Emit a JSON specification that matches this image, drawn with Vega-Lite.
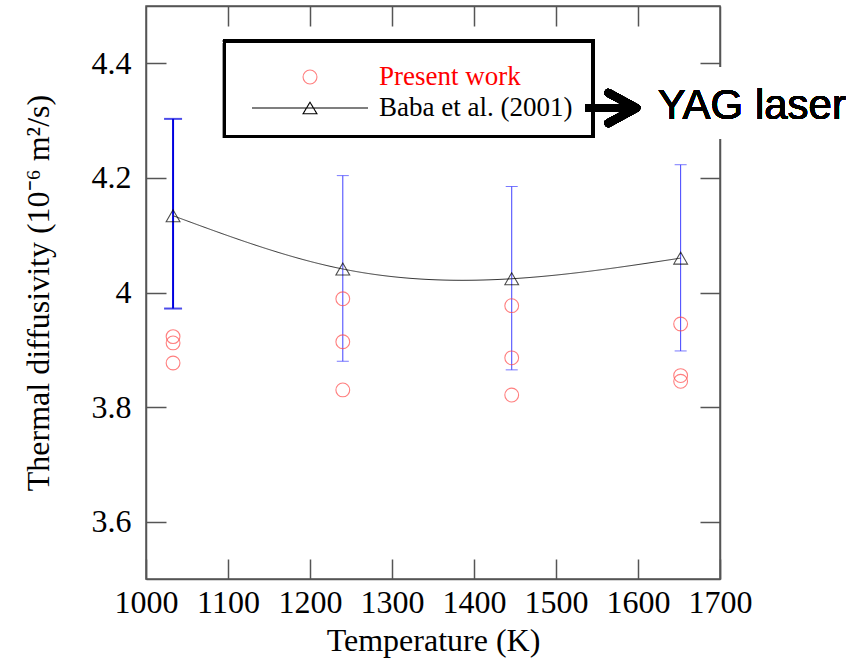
{
  "$schema": "https://vega.github.io/schema/vega-lite/v6.json",
  "width": 574,
  "height": 573,
  "autosize": "none",
  "padding": {"left": 146, "top": 6, "right": 136, "bottom": 80},
  "background": "white",
  "config": {
    "view": {"stroke": "#555555", "strokeWidth": 1.5},
    "font": "Liberation Serif",
    "axis": {
      "grid": false,
      "domainColor": "#555555",
      "domainWidth": 1.5,
      "tickColor": "#555555",
      "tickWidth": 1.5,
      "tickSize": -20,
      "labelFont": "Liberation Serif",
      "labelFontSize": 32,
      "labelColor": "#000000",
      "titleFont": "Liberation Serif",
      "titleFontSize": 32,
      "titleFontWeight": "normal",
      "titleColor": "#000000"
    }
  },
  "data": {
    "values": [
      {"series": "Present work", "T": 1033, "alpha": 3.923},
      {"series": "Present work", "T": 1033, "alpha": 3.912},
      {"series": "Present work", "T": 1033, "alpha": 3.877},
      {"series": "Present work", "T": 1240, "alpha": 3.989},
      {"series": "Present work", "T": 1240, "alpha": 3.914},
      {"series": "Present work", "T": 1240, "alpha": 3.830},
      {"series": "Present work", "T": 1446, "alpha": 3.977},
      {"series": "Present work", "T": 1446, "alpha": 3.886},
      {"series": "Present work", "T": 1446, "alpha": 3.821},
      {"series": "Present work", "T": 1652, "alpha": 3.945},
      {"series": "Present work", "T": 1652, "alpha": 3.855},
      {"series": "Present work", "T": 1652, "alpha": 3.845},
      {"series": "Baba et al. (2001)", "T": 1033, "alpha": 4.134, "lo": 3.972, "hi": 4.303},
      {"series": "Baba et al. (2001)", "T": 1240, "alpha": 4.041, "lo": 3.880, "hi": 4.204},
      {"series": "Baba et al. (2001)", "T": 1446, "alpha": 4.024, "lo": 3.865, "hi": 4.185},
      {"series": "Baba et al. (2001)", "T": 1652, "alpha": 4.060, "lo": 3.898, "hi": 4.223}
    ]
  },
  "layer": [
    {
      "mark": {"type": "rect", "fill": "white", "stroke": null},
      "encoding": {
        "x": {"datum": 1690, "type": "quantitative", "scale": {"domain": [1000, 1700], "nice": false, "zero": false}, "axis": null},
        "x2": {"datum": 1760},
        "y": {"datum": 4.393, "type": "quantitative", "scale": {"domain": [3.5, 4.5], "nice": false, "zero": false}, "axis": null},
        "y2": {"datum": 4.268}
      }
    },
    {
      "transform": [{"filter": "datum.series === 'Baba et al. (2001)' && datum.T < 1100"}],
      "mark": {"type": "rule", "color": "#0000e0", "strokeWidth": 2},
      "encoding": {
        "x": {
          "field": "T", "type": "quantitative",
          "scale": {"domain": [1000, 1700], "nice": false, "zero": false},
          "axis": {
            "orient": "bottom",
            "values": [1000, 1100, 1200, 1300, 1400, 1500, 1600, 1700],
            "format": "d",
            "labelOverlap": false,
            "labelFlush": false,
            "labelPadding": 28,
            "title": "Temperature (K)",
            "titleY": 71,
            "titleBaseline": "alphabetic"
          }
        },
        "y": {
          "field": "lo", "type": "quantitative",
          "scale": {"domain": [3.5, 4.5], "nice": false, "zero": false},
          "axis": {
            "orient": "left",
            "values": [3.6, 3.8, 4.0, 4.2, 4.4],
            "format": "~g",
            "labelOverlap": false,
            "labelFlush": false,
            "labelPadding": 35,
            "title": "Thermal diffusivity (10⁻⁶ m²/s)",
            "titleX": -98,
            "titleBaseline": "alphabetic"
          }
        },
        "y2": {"field": "hi"}
      }
    },
    {
      "transform": [{"filter": "datum.series === 'Baba et al. (2001)' && datum.T > 1100"}],
      "mark": {"type": "rule", "color": "#4040ff", "strokeWidth": 1},
      "encoding": {
        "x": {"field": "T", "type": "quantitative", "scale": {"domain": [1000, 1700], "nice": false, "zero": false}, "axis": null},
        "y": {"field": "lo", "type": "quantitative", "scale": {"domain": [3.5, 4.5], "nice": false, "zero": false}, "axis": null},
        "y2": {"field": "hi"}
      }
    },
    {
      "transform": [
        {"filter": "datum.series === 'Baba et al. (2001)' && datum.T < 1100"},
        {"fold": ["lo", "hi"], "as": ["end", "v"]}
      ],
      "mark": {"type": "tick", "orient": "horizontal", "color": "#0000e0", "size": 18, "thickness": 2},
      "encoding": {
        "x": {"field": "T", "type": "quantitative", "scale": {"domain": [1000, 1700], "nice": false, "zero": false}, "axis": null},
        "y": {"field": "v", "type": "quantitative", "scale": {"domain": [3.5, 4.5], "nice": false, "zero": false}, "axis": null}
      }
    },
    {
      "transform": [
        {"filter": "datum.series === 'Baba et al. (2001)' && datum.T > 1100"},
        {"fold": ["lo", "hi"], "as": ["end", "v"]}
      ],
      "mark": {"type": "tick", "orient": "horizontal", "color": "#4040ff", "size": 12, "thickness": 1},
      "encoding": {
        "x": {"field": "T", "type": "quantitative", "scale": {"domain": [1000, 1700], "nice": false, "zero": false}, "axis": null},
        "y": {"field": "v", "type": "quantitative", "scale": {"domain": [3.5, 4.5], "nice": false, "zero": false}, "axis": null}
      }
    },
    {
      "transform": [{"filter": "datum.series === 'Baba et al. (2001)'"}],
      "mark": {"type": "line", "interpolate": "natural", "color": "#333333", "strokeWidth": 1},
      "encoding": {
        "x": {
          "field": "T", "type": "quantitative",
          "scale": {"domain": [1000, 1700], "nice": false, "zero": false},
          "axis": {"orient": "top", "values": [1100, 1200, 1300, 1400, 1500, 1600], "labels": false, "title": null}
        },
        "y": {
          "field": "alpha", "type": "quantitative",
          "scale": {"domain": [3.5, 4.5], "nice": false, "zero": false},
          "axis": {"orient": "right", "values": [3.6, 3.8, 4.0, 4.2, 4.4], "labels": false, "title": null}
        },
        "strokeDash": {
          "field": "series", "type": "nominal",
          "scale": {"domain": ["Baba et al. (2001)"], "range": [[1, 0]]},
          "legend": {
            "title": null,
            "orient": "none",
            "legendX": 105,
            "legendY": 43,
            "padding": 0,
            "symbolType": "M-1,0L1,0M0,-0.1L0.12,0.1L-0.12,0.1Z",
            "symbolSize": 13456,
            "symbolStrokeWidth": 1.1,
            "symbolStrokeColor": "#000000",
            "symbolFillColor": "transparent",
            "labelFont": "Liberation Serif",
            "labelFontSize": 27,
            "labelColor": "#000000",
            "labelOffset": 10,
            "labelLimit": 400
          }
        }
      }
    },
    {
      "transform": [{"filter": "datum.series === 'Baba et al. (2001)'"}],
      "mark": {"type": "point", "shape": "triangle-up", "filled": false, "size": 190, "strokeWidth": 1.1, "color": "#000000"},
      "encoding": {
        "x": {"field": "T", "type": "quantitative", "scale": {"domain": [1000, 1700], "nice": false, "zero": false}, "axis": null},
        "y": {"field": "alpha", "type": "quantitative", "scale": {"domain": [3.5, 4.5], "nice": false, "zero": false}, "axis": null}
      }
    },
    {
      "transform": [{"filter": "datum.series === 'Present work'"}],
      "mark": {"type": "point", "shape": "circle", "filled": false, "size": 190, "strokeWidth": 1.1},
      "encoding": {
        "x": {"field": "T", "type": "quantitative", "scale": {"domain": [1000, 1700], "nice": false, "zero": false}, "axis": null},
        "y": {"field": "alpha", "type": "quantitative", "scale": {"domain": [3.5, 4.5], "nice": false, "zero": false}, "axis": null},
        "color": {
          "field": "series", "type": "nominal",
          "scale": {"domain": ["Present work"], "range": ["#ff4a4a"]},
          "legend": {
            "title": null,
            "orient": "none",
            "legendX": 105,
            "legendY": 12,
            "padding": 0,
            "symbolType": "M-1,0L-1,0M1,0L1,0M0.12,0A0.12,0.12,0,1,1,-0.12,0A0.12,0.12,0,1,1,0.12,0Z",
            "symbolSize": 13456,
            "symbolStrokeWidth": 1.1,
            "symbolFillColor": "transparent",
            "labelFont": "Liberation Serif",
            "labelFontSize": 27,
            "labelColor": "#ff0000",
            "labelOffset": 10,
            "labelLimit": 400
          }
        }
      }
    },
    {
      "mark": {"type": "rect", "filled": false, "color": "#000000", "strokeWidth": 3},
      "encoding": {
        "x": {"datum": 1095.7, "type": "quantitative", "scale": {"domain": [1000, 1700], "nice": false, "zero": false}, "axis": null},
        "x2": {"datum": 1545.1},
        "y": {"datum": 4.439, "type": "quantitative", "scale": {"domain": [3.5, 4.5], "nice": false, "zero": false}, "axis": null},
        "y2": {"datum": 4.2723}
      }
    },
    {
      "mark": {"type": "rule", "color": "#000000", "strokeWidth": 8},
      "encoding": {
        "x": {"datum": 1535.4, "type": "quantitative", "scale": {"domain": [1000, 1700], "nice": false, "zero": false}, "axis": null},
        "x2": {"datum": 1594},
        "y": {"datum": 4.322, "type": "quantitative", "scale": {"domain": [3.5, 4.5], "nice": false, "zero": false}, "axis": null}
      }
    },
    {
      "mark": {"type": "point", "shape": "M-1,-0.54L0,0L-1,0.54", "size": 3136, "filled": false, "stroke": "#000000", "strokeWidth": 8, "strokeCap": "round", "strokeJoin": "round", "opacity": 1},
      "encoding": {
        "x": {"datum": 1598, "type": "quantitative", "scale": {"domain": [1000, 1700], "nice": false, "zero": false}, "axis": null},
        "y": {"datum": 4.322, "type": "quantitative", "scale": {"domain": [3.5, 4.5], "nice": false, "zero": false}, "axis": null}
      }
    },
    {
      "mark": {"type": "text", "text": "YAG laser", "font": "Liberation Sans", "fontSize": 42, "align": "left", "baseline": "alphabetic", "color": "#000000"},
      "encoding": {
        "x": {"datum": 1624, "type": "quantitative", "scale": {"domain": [1000, 1700], "nice": false, "zero": false}, "axis": null},
        "y": {"datum": 4.303, "type": "quantitative", "scale": {"domain": [3.5, 4.5], "nice": false, "zero": false}, "axis": null}
      }
    }
  ],
  "resolve": {"axis": {"x": "independent", "y": "independent"}}
}
